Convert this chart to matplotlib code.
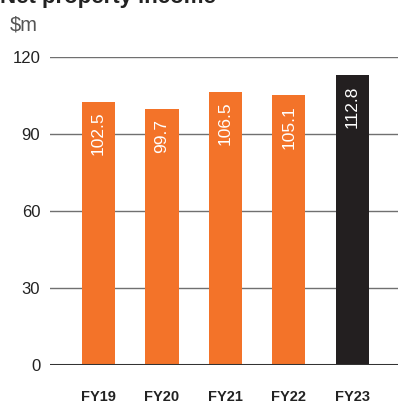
import matplotlib
matplotlib.use("Agg")
import matplotlib.pyplot as plt

categories = ["FY19", "FY20", "FY21", "FY22", "FY23"]
values = [102.5, 99.7, 106.5, 105.1, 112.8]
yticks = [0, 30, 60, 90, 120]

orange = "#F37329"
dark = "#231F20"
colors = [orange, orange, orange, orange, dark]

plt.rcParams['font.family'] = ['Liberation Sans', 'DejaVu Sans']

fig = plt.figure(figsize=(3.98, 4.03), dpi=100)
ax = fig.add_axes([50/398, 38/403, 348/398, 308/403])

for y in yticks[1:]:
    ax.axhline(y, color="#707070", lw=1.0, zorder=1)
ax.axhline(0, color="#333333", lw=2.2, zorder=3)

x = list(range(len(categories)))
bars = ax.bar(x, values, width=0.52, color=colors, zorder=2)
for xi, v in zip(x, values):
    ax.text(xi, v - 3.8, f"{v:.1f}", rotation=90, ha="center", va="top",
            color="white", fontsize=12.5, zorder=4)

ax.set_xlim(-0.764, 4.717)
ax.set_ylim(0, 120)
ax.set_yticks(yticks)
ax.set_yticklabels([str(t) for t in yticks], fontsize=12, color="#222222")
ax.set_xticks(x)
ax.set_xticklabels(categories, fontsize=10.5, fontweight="bold", color="#222222")
ax.tick_params(axis="y", length=0, pad=7)
ax.tick_params(axis="x", length=0, pad=18)
for s in ax.spines.values():
    s.set_visible(False)

fig.text(10/398, 1 - 30/403, "$m", fontsize=14.5, color="#555555", ha="left", va="baseline")
fig.text(0/398, 1 - 3/403, "Net property income", fontsize=16, fontweight="bold",
         color="#222222", ha="left", va="baseline")

fig.savefig("out.png", dpi=100)
